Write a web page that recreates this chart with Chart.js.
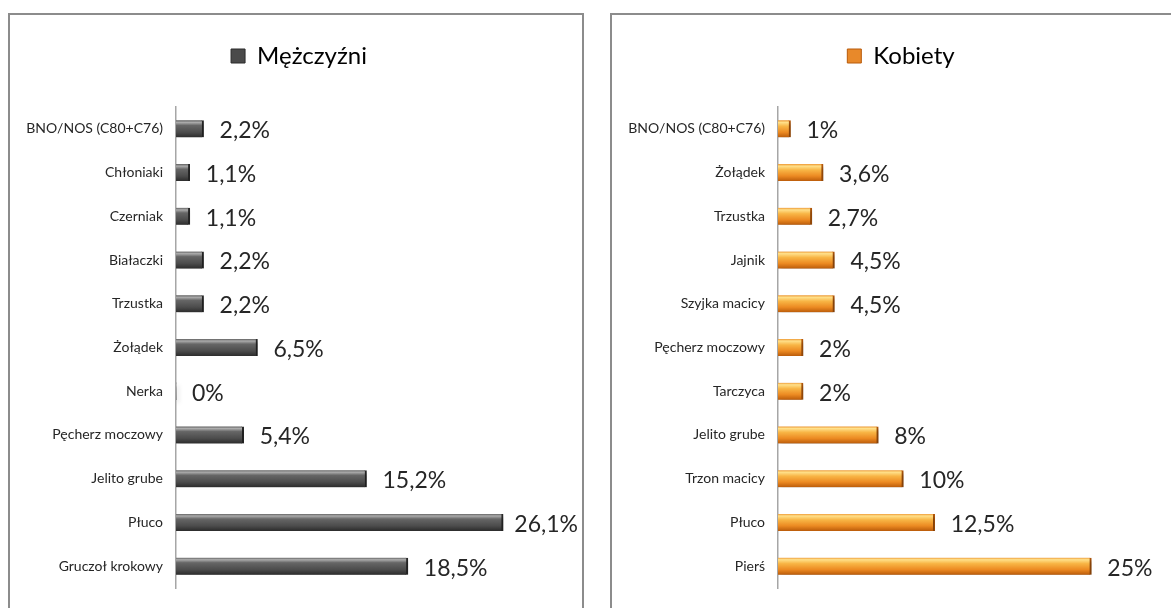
<!DOCTYPE html>
<html lang="pl">
<head>
    <meta charset="UTF-8">
    <title>Mężczyźni / Kobiety</title>
    <script src="https://cdn.jsdelivr.net/npm/chart.js"></script>
    <style>
        body {
            margin: 0;
            padding: 0;
            background: #fff;
            width: 1171px;
            height: 608px;
            overflow: hidden;
            position: relative;
            font-family: Lato, sans-serif;
        }
        .panel {
            position: absolute;
            top: 13px;
            width: 572px;
            height: 620px;
            border: 2px solid #8c8c8c;
            background: #fff;
        }
        #left { left: 8px; }
        #right { left: 610px; }
        canvas { display: block; }
    </style>
</head>
<body>
    <div class="panel" id="left"><canvas id="chartM" width="572" height="600"></canvas></div>
    <div class="panel" id="right"><canvas id="chartK" width="572" height="600"></canvas></div>
    <script>
        // dane - mężczyźni
        const menLabels = ['BNO/NOS (C80+C76)', 'Chłoniaki', 'Czerniak', 'Białaczki', 'Trzustka', 'Żołądek', 'Nerka', 'Pęcherz moczowy', 'Jelito grube', 'Płuco', 'Gruczoł krokowy'];
        const menValues = [2.2, 1.1, 1.1, 2.2, 2.2, 6.5, 0, 5.4, 15.2, 26.1, 18.5];

        // dane - kobiety
        const womenLabels = ['BNO/NOS (C80+C76)', 'Żołądek', 'Trzustka', 'Jajnik', 'Szyjka macicy', 'Pęcherz moczowy', 'Tarczyca', 'Jelito grube', 'Trzon macicy', 'Płuco', 'Pierś'];
        const womenValues = [1, 3.6, 2.7, 4.5, 4.5, 2, 2, 8, 10, 12.5, 25];

        const BAR = 17;

        // gradient "3D" dla każdego słupka
        function barGradient(stops, flat) {
            return function (ctx) {
                const chart = ctx.chart;
                if (ctx.dataIndex === undefined || !chart.chartArea) return flat;
                const y = chart.scales.y.getPixelForValue(ctx.dataIndex);
                const g = chart.ctx.createLinearGradient(0, y - BAR / 2, 0, y + BAR / 2);
                stops.forEach(s => g.addColorStop(s[0], s[1]));
                return g;
            };
        }

        const greyStops = [[0, '#606060'], [0.12, '#ababab'], [0.3, '#666666'], [0.7, '#4c4c4c'], [1, '#2c2c2c']];
        const orangeStops = [[0, '#ee9a35'], [0.12, '#ffe08a'], [0.35, '#f8b545'], [0.7, '#ec8a22'], [1, '#bb5c0a']];

        // cień pod słupkami
        const shadowPlugin = {
            id: 'shadow',
            beforeDatasetsDraw(chart) {
                const c = chart.ctx;
                c.save();
                c.shadowColor = 'rgba(0,0,0,0.35)';
                c.shadowBlur = 4;
                c.shadowOffsetX = 2;
                c.shadowOffsetY = 3;
            },
            afterDatasetsDraw(chart) {
                chart.ctx.restore();
            }
        };

        // etykiety wartości
        const valueLabels = {
            id: 'valueLabels',
            afterDatasetsDraw(chart) {
                const c = chart.ctx;
                const meta = chart.getDatasetMeta(0);
                const data = chart.data.datasets[0].data;
                c.save();
                c.font = '23px Lato';
                c.fillStyle = '#262626';
                c.textBaseline = 'middle';
                meta.data.forEach((bar, i) => {
                    const txt = String(data[i]).replace('.', ',') + '%';
                    const w = c.measureText(txt).width;
                    const limit = chart.width - 4;
                    let x = Math.min(bar.x + 16, limit - w);
                    x = Math.max(x, bar.x + 3);
                    c.fillText(txt, x, bar.y + 2);
                });
                c.restore();
            }
        };

        // większy odstęp pod legendą + przesunięcie legendy w prawo
        const legendSpace = {
            id: 'legendSpace',
            beforeInit(chart) {
                const fit = chart.legend.fit;
                chart.legend.fit = function () {
                    fit.call(this);
                    this.height += 29;
                };
            },
            afterLayout(chart) {
                chart.legend.left += 18;
                chart.legend.right += 18;
            }
        };

        function makeChart(id, title, labels, values, stops, flat, edge) {
            return new Chart(document.getElementById(id), {
                type: 'bar',
                data: {
                    labels: labels,
                    datasets: [{
                        label: title,
                        data: values,
                        backgroundColor: barGradient(stops, flat),
                        borderColor: edge,
                        borderWidth: (ctx) => (ctx.raw ? { top: 0, bottom: 0, left: 0, right: 2 } : 0),
                        barThickness: BAR,
                        borderSkipped: 'start'
                    }]
                },
                options: {
                    indexAxis: 'y',
                    responsive: false,
                    animation: false,
                    devicePixelRatio: 1,
                    layout: { padding: { top: 19, right: 30, bottom: 27, left: 0 } },
                    scales: {
                        x: { display: false, min: 0, max: 30 },
                        y: {
                            grid: { display: false },
                            border: { display: true, color: '#a6a6a6', width: 1.5 },
                            ticks: { color: '#262626', padding: 5, font: { family: 'Lato', size: 14 } },
                            afterFit(scale) { scale.width = 166; }
                        }
                    },
                    plugins: {
                        legend: {
                            position: 'top',
                            labels: {
                                boxWidth: 14,
                                boxHeight: 14,
                                color: '#262626',
                                padding: 10,
                                font: { family: 'Lato', size: 24 },
                                generateLabels() {
                                    return [{ text: title, fillStyle: flat, strokeStyle: edge, lineWidth: 1 }];
                                }
                            }
                        },
                        tooltip: { enabled: false }
                    }
                },
                plugins: [legendSpace, shadowPlugin, valueLabels]
            });
        }

        makeChart('chartM', 'Mężczyźni', menLabels, menValues, greyStops, '#4a4a4a', '#2a2a2a');
        makeChart('chartK', 'Kobiety', womenLabels, womenValues, orangeStops, '#e8892a', '#b85a0a');
    </script>
</body>
</html>
